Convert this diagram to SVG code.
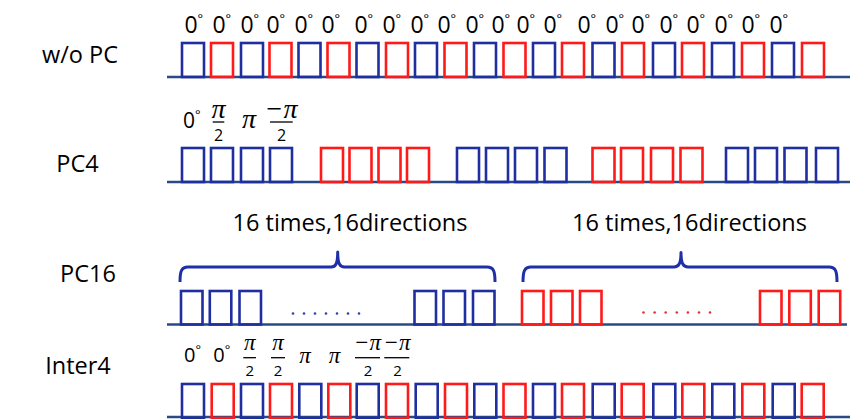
<svg xmlns="http://www.w3.org/2000/svg" width="868" height="419" viewBox="0 0 868 419">
<style>
.bg{fill:#ffffff}
.lbl{font-family:"Open Sans","Liberation Sans",sans-serif;font-size:23.5px;fill:#000;text-anchor:middle}
.z{font-family:"Open Sans","Liberation Sans",sans-serif;font-size:23px;fill:#000}
.z2{font-family:"Open Sans","Liberation Sans",sans-serif;font-size:21px;fill:#000}
.z3{font-family:"Open Sans","Liberation Sans",sans-serif;font-size:20px;fill:#000}
.deg{font-size:13px}
.pi{font-family:"Liberation Serif","DejaVu Serif",serif;font-style:italic;font-size:28px;fill:#000;text-anchor:middle}
.pis{font-family:"Liberation Serif","DejaVu Serif",serif;font-style:italic;font-size:23px;fill:#000;text-anchor:middle}
.two{font-family:"Open Sans","Liberation Sans",sans-serif;font-size:16px;fill:#000;text-anchor:middle}
.twos{font-family:"Open Sans","Liberation Sans",sans-serif;font-size:15px;fill:#000;text-anchor:middle}
.bar{stroke:#000;stroke-width:1.3}
.cap{font-family:"Open Sans","Liberation Sans",sans-serif;font-size:23.5px;fill:#000;text-anchor:middle}
.base{stroke:#2b4a85;stroke-width:2.5;fill:none}
.b{fill:none;stroke:#1f2fa0;stroke-width:2.6}
.r{fill:none;stroke:#ff1a1a;stroke-width:2.6}
.brace{fill:none;stroke:#1f2fa8;stroke-width:3;stroke-linejoin:round}
.db{fill:#3040b0}
.dr{fill:#e83030}
</style>
<defs>
<rect id="p1" width="22" height="34"/>
<rect id="p3" width="21.5" height="33.5"/>
</defs>
<rect class="bg" x="0" y="0" width="868" height="419"/>

<g id="labels">
<text class="lbl" x="80" y="63">w/o PC</text>
<text class="lbl" x="77.5" y="172">PC4</text>
<text class="lbl" x="88" y="282">PC16</text>
<text class="lbl" x="78" y="374">Inter4</text>
</g>

<g id="row-wopc">
<line class="base" x1="167" y1="77" x2="850" y2="77"/>
<use href="#p1" class="b" x="182" y="43"/>
<use href="#p1" class="r" x="211" y="43"/>
<use href="#p1" class="b" x="241" y="43"/>
<use href="#p1" class="r" x="269.5" y="43"/>
<use href="#p1" class="b" x="298.5" y="43"/>
<use href="#p1" class="r" x="327.5" y="43"/>
<use href="#p1" class="b" x="356.5" y="43"/>
<use href="#p1" class="r" x="386" y="43"/>
<use href="#p1" class="b" x="415" y="43"/>
<use href="#p1" class="r" x="444.5" y="43"/>
<use href="#p1" class="b" x="474" y="43"/>
<use href="#p1" class="r" x="503.5" y="43"/>
<use href="#p1" class="b" x="533" y="43"/>
<use href="#p1" class="r" x="562" y="43"/>
<use href="#p1" class="b" x="592.5" y="43"/>
<use href="#p1" class="r" x="622" y="43"/>
<use href="#p1" class="b" x="653" y="43"/>
<use href="#p1" class="r" x="682" y="43"/>
<use href="#p1" class="b" x="712" y="43"/>
<use href="#p1" class="r" x="742" y="43"/>
<use href="#p1" class="b" x="772" y="43"/>
<use href="#p1" class="r" x="802" y="43"/>
<text class="z" x="184.4" y="33">0<tspan class="deg" dy="-10">°</tspan></text>
<text class="z" x="212.4" y="33">0<tspan class="deg" dy="-10">°</tspan></text>
<text class="z" x="240.4" y="33">0<tspan class="deg" dy="-10">°</tspan></text>
<text class="z" x="266.4" y="33">0<tspan class="deg" dy="-10">°</tspan></text>
<text class="z" x="294.4" y="33">0<tspan class="deg" dy="-10">°</tspan></text>
<text class="z" x="321.4" y="33">0<tspan class="deg" dy="-10">°</tspan></text>
<text class="z" x="354.4" y="33">0<tspan class="deg" dy="-10">°</tspan></text>
<text class="z" x="382.4" y="33">0<tspan class="deg" dy="-10">°</tspan></text>
<text class="z" x="410.4" y="33">0<tspan class="deg" dy="-10">°</tspan></text>
<text class="z" x="437.4" y="33">0<tspan class="deg" dy="-10">°</tspan></text>
<text class="z" x="465.4" y="33">0<tspan class="deg" dy="-10">°</tspan></text>
<text class="z" x="491.4" y="33">0<tspan class="deg" dy="-10">°</tspan></text>
<text class="z" x="516.4" y="33">0<tspan class="deg" dy="-10">°</tspan></text>
<text class="z" x="543.4" y="33">0<tspan class="deg" dy="-10">°</tspan></text>
<text class="z" x="577.4" y="33">0<tspan class="deg" dy="-10">°</tspan></text>
<text class="z" x="605.4" y="33">0<tspan class="deg" dy="-10">°</tspan></text>
<text class="z" x="631.4" y="33">0<tspan class="deg" dy="-10">°</tspan></text>
<text class="z" x="659.4" y="33">0<tspan class="deg" dy="-10">°</tspan></text>
<text class="z" x="686.4" y="33">0<tspan class="deg" dy="-10">°</tspan></text>
<text class="z" x="714.4" y="33">0<tspan class="deg" dy="-10">°</tspan></text>
<text class="z" x="741.4" y="33">0<tspan class="deg" dy="-10">°</tspan></text>
<text class="z" x="769.4" y="33">0<tspan class="deg" dy="-10">°</tspan></text>
</g>

<g id="row-pc4">
<line class="base" x1="167" y1="182" x2="850" y2="182"/>
<use href="#p1" class="b" x="182" y="148"/>
<use href="#p1" class="b" x="211" y="148"/>
<use href="#p1" class="b" x="241" y="148"/>
<use href="#p1" class="b" x="270" y="148"/>
<use href="#p1" class="r" x="321" y="148"/>
<use href="#p1" class="r" x="349.5" y="148"/>
<use href="#p1" class="r" x="378.5" y="148"/>
<use href="#p1" class="r" x="407" y="148"/>
<use href="#p1" class="b" x="457" y="148"/>
<use href="#p1" class="b" x="486" y="148"/>
<use href="#p1" class="b" x="515" y="148"/>
<use href="#p1" class="b" x="544.5" y="148"/>
<use href="#p1" class="r" x="592.5" y="148"/>
<use href="#p1" class="r" x="621" y="148"/>
<use href="#p1" class="r" x="651" y="148"/>
<use href="#p1" class="r" x="680.5" y="148"/>
<use href="#p1" class="b" x="726" y="148"/>
<use href="#p1" class="b" x="755" y="148"/>
<use href="#p1" class="b" x="784.5" y="148"/>
<use href="#p1" class="b" x="816" y="148"/>
<text class="z2" x="183" y="128">0<tspan class="deg" dy="-9">°</tspan></text>
<text class="pi" x="218.5" y="118">π</text>
<line class="bar" x1="212.7" y1="122" x2="224.3" y2="122"/>
<text class="two" x="218.5" y="141">2</text>
<text class="pi" x="249" y="128">π</text>
<text class="pi" x="281" y="118">−π</text>
<line class="bar" x1="270" y1="122" x2="292.7" y2="122"/>
<text class="two" x="281.5" y="141">2</text>
</g>

<g id="row-pc16">
<line class="base" x1="167" y1="324.5" x2="847" y2="324.5"/>
<use href="#p3" class="b" x="181" y="291"/>
<use href="#p3" class="b" x="209.8" y="291"/>
<use href="#p3" class="b" x="239.5" y="291"/>
<use href="#p3" class="b" x="414.5" y="291"/>
<use href="#p3" class="b" x="443.5" y="291"/>
<use href="#p3" class="b" x="473" y="291"/>
<use href="#p3" class="r" x="522" y="291"/>
<use href="#p3" class="r" x="551" y="291"/>
<use href="#p3" class="r" x="580" y="291"/>
<use href="#p3" class="r" x="760" y="291"/>
<use href="#p3" class="r" x="789.3" y="291"/>
<use href="#p3" class="r" x="818.7" y="291"/>
<circle class="db" cx="293" cy="313.5" r="1.3"/>
<circle class="db" cx="304" cy="313.5" r="1.3"/>
<circle class="db" cx="315" cy="313.5" r="1.3"/>
<circle class="db" cx="326" cy="313.5" r="1.3"/>
<circle class="db" cx="337" cy="313.5" r="1.3"/>
<circle class="db" cx="348" cy="313.5" r="1.3"/>
<circle class="db" cx="359" cy="313.5" r="1.3"/>
<circle class="dr" cx="643.5" cy="312.5" r="1.3"/>
<circle class="dr" cx="654.6" cy="312.5" r="1.3"/>
<circle class="dr" cx="665.7" cy="312.5" r="1.3"/>
<circle class="dr" cx="676.8" cy="312.5" r="1.3"/>
<circle class="dr" cx="687.9" cy="312.5" r="1.3"/>
<circle class="dr" cx="699" cy="312.5" r="1.3"/>
<circle class="dr" cx="710" cy="312.5" r="1.3"/>
<text class="cap" x="350" y="231">16 times,16directions</text>
<text class="cap" x="689.5" y="231">16 times,16directions</text>
</g>

<g id="braces">
<path class="brace" d="M180,282 C180,271 181.5,267 188,267 L331,267 C335.5,267 337.7,264 337.7,252 C337.7,264 340,267 344.5,267 L487,267 C493.5,267 495,271 495,282"/>
<path class="brace" d="M523,282 C523,271 524.5,267 531,267 L674,267 C678.5,267 681,264 681,252.5 C681,264 683.5,267 688,267 L829,267 C835.5,267 837,271 837,282"/>
</g>

<g id="row-inter4">
<line class="base" x1="167" y1="417" x2="850" y2="417"/>
<use href="#p1" class="b" x="182" y="384"/>
<use href="#p1" class="r" x="211.7" y="384"/>
<use href="#p1" class="b" x="241" y="384"/>
<use href="#p1" class="r" x="270" y="384"/>
<use href="#p1" class="b" x="299.3" y="384"/>
<use href="#p1" class="r" x="328.3" y="384"/>
<use href="#p1" class="b" x="356.7" y="384"/>
<use href="#p1" class="r" x="386" y="384"/>
<use href="#p1" class="b" x="415.7" y="384"/>
<use href="#p1" class="r" x="445" y="384"/>
<use href="#p1" class="b" x="474.3" y="384"/>
<use href="#p1" class="r" x="503.5" y="384"/>
<use href="#p1" class="b" x="533" y="384"/>
<use href="#p1" class="r" x="562" y="384"/>
<use href="#p1" class="b" x="592.7" y="384"/>
<use href="#p1" class="r" x="621.7" y="384"/>
<use href="#p1" class="b" x="653.3" y="384"/>
<use href="#p1" class="r" x="682.3" y="384"/>
<use href="#p1" class="b" x="712.3" y="384"/>
<use href="#p1" class="r" x="742.3" y="384"/>
<use href="#p1" class="b" x="772.7" y="384"/>
<use href="#p1" class="r" x="801.7" y="384"/>
<text class="z3" x="184" y="362">0<tspan class="deg" dy="-8.5">°</tspan></text>
<text class="z3" x="213.3" y="362">0<tspan class="deg" dy="-8.5">°</tspan></text>
<text class="pis" x="249.7" y="350">π</text>
<line class="bar" x1="243.3" y1="357.7" x2="256" y2="357.7"/>
<text class="twos" x="249.7" y="375.5">2</text>
<text class="pis" x="278" y="350">π</text>
<line class="bar" x1="271" y1="357.7" x2="285" y2="357.7"/>
<text class="twos" x="278" y="375.5">2</text>
<text class="pis" x="305" y="362.5">π</text>
<text class="pis" x="334.5" y="362.5">π</text>
<text class="pis" x="367.5" y="350">−π</text>
<line class="bar" x1="355" y1="357.7" x2="380" y2="357.7"/>
<text class="twos" x="368" y="375.5">2</text>
<text class="pis" x="397" y="350">−π</text>
<line class="bar" x1="384.3" y1="357.7" x2="409.3" y2="357.7"/>
<text class="twos" x="397.5" y="375.5">2</text>
</g>
</svg>
